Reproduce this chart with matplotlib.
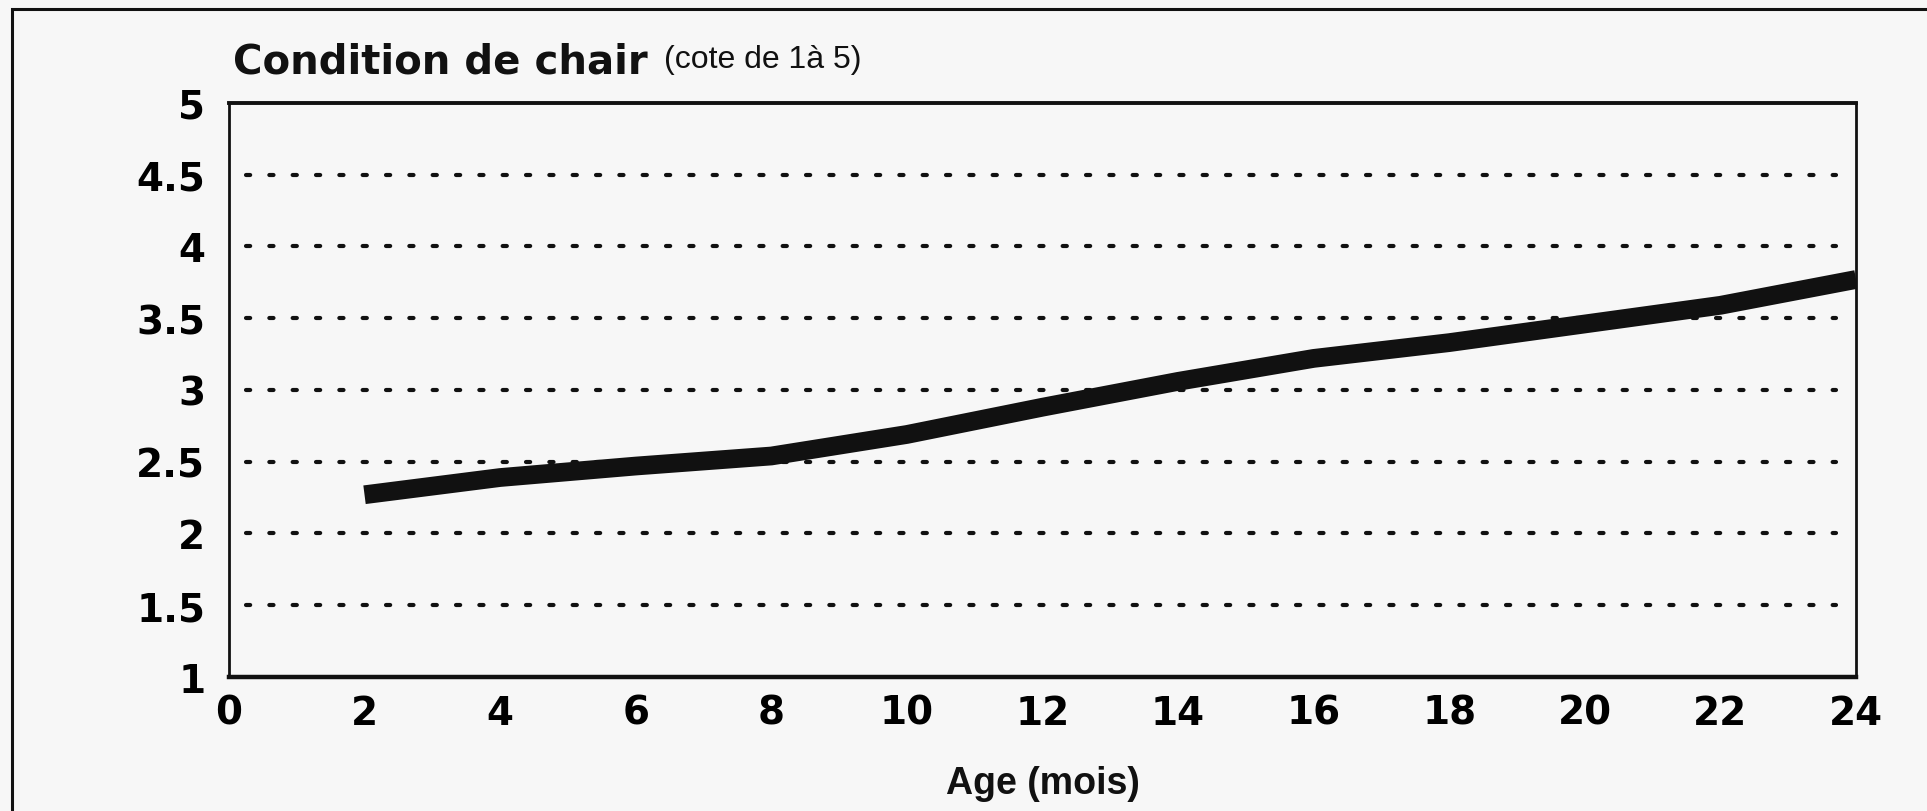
import matplotlib
matplotlib.use("Agg")
import matplotlib.pyplot as plt
from matplotlib.patches import Rectangle

# body condition score by age
age_months = [2, 4, 6, 8, 10, 12, 14, 16, 18, 20, 22, 24]
condition = [2.27, 2.39, 2.47, 2.54, 2.69, 2.88, 3.06, 3.22, 3.33, 3.46, 3.59, 3.77]

x_ticks = [0, 2, 4, 6, 8, 10, 12, 14, 16, 18, 20, 22, 24]
y_ticks = [1, 1.5, 2, 2.5, 3, 3.5, 4, 4.5, 5]
y_tick_labels = ["1", "1.5", "2", "2.5", "3", "3.5", "4", "4.5", "5"]
grid_levels = [1.5, 2, 2.5, 3, 3.5, 4, 4.5]

paper = "#f7f7f7"
ink = "#111111"

fig = plt.figure(figsize=(19.27, 8.12), dpi=100, facecolor=paper)
ax = fig.add_axes([0.1188, 0.165, 0.8444, 0.707])
ax.set_facecolor(paper)

# outer frame of the figure
fig.patches.append(Rectangle((12 / 1927, -0.05), 1.1, 1 - 10 / 812 + 0.05,
                             transform=fig.transFigure, fill=False,
                             edgecolor=ink, linewidth=2.2))

# dotted horizontal guides
for lvl in grid_levels:
    ax.plot([0.25, 23.7], [lvl, lvl], color=ink, linewidth=3,
            linestyle=(0, (1, 4.6)), dash_capstyle="round", zorder=1)

ax.plot(age_months, condition, color=ink, linewidth=13.5,
        solid_capstyle="butt", solid_joinstyle="round", zorder=3)

ax.set_xlim(0, 24)
ax.set_ylim(1, 5)
ax.set_xticks(x_ticks)
ax.set_yticks(y_ticks)
ax.set_yticklabels(y_tick_labels)
ax.tick_params(length=0, labelsize=28)
ax.tick_params(axis="x", pad=12)
ax.tick_params(axis="y", pad=17)
for lab in ax.get_xticklabels() + ax.get_yticklabels():
    lab.set_fontweight("bold")
    lab.set_family("DejaVu Sans")

for side in ["left", "right", "top", "bottom"]:
    ax.spines[side].set_color(ink)
ax.spines["left"].set_linewidth(2)
ax.spines["right"].set_linewidth(2)
ax.spines["top"].set_linewidth(2.8)
ax.spines["bottom"].set_linewidth(3.2)

fig.text(233 / 1927, 1 - 62 / 812, "Condition de chair", fontsize=29,
         fontweight="bold", family="DejaVu Sans", color=ink, va="center")
fig.text(664 / 1927, 1 - 60 / 812, "(cote de 1à 5)", fontsize=23,
         family="Liberation Sans", color=ink, va="center")

ax.set_xlabel("Age (mois)", fontsize=27, fontweight="bold",
              family="Liberation Sans", color=ink, labelpad=24)

fig.savefig("out.png", dpi=100, facecolor=paper)
